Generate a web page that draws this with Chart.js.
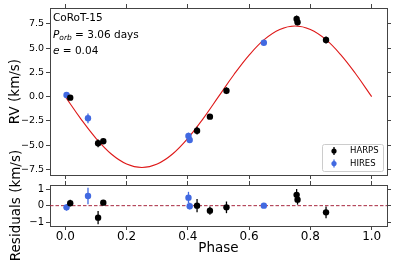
<!DOCTYPE html>
<html>
<head>
<meta charset="utf-8">
<script src="https://cdn.jsdelivr.net/npm/chart.js@4.4.0/dist/chart.umd.min.js"></script>
<style>
body { margin: 0; background: #fff; }
#wrap { position: relative; width: 395px; height: 264px; }
canvas { position: absolute; left: 0; top: 0; }
#note { position: absolute; left: 53px; top: 9px; font: 10.5px 'DejaVu Sans'; line-height: 16.5px; color: #000; }
#note sub { font-size: 7.5px; font-style: italic; vertical-align: -2px; line-height: 0; }
</style>
</head>
<body>
<div id="wrap">
  <canvas id="rvChart" width="395" height="264"></canvas>
  <canvas id="resChart" width="395" height="264"></canvas>
  <div id="note">CoRoT-15<br><i>P</i><sub>orb</sub> = 3.06 days<br><i>e</i> = 0.04</div>
</div>
<script>
"use strict";

const harpsPhase = [0.016, 0.107, 0.124, 0.430, 0.472, 0.526, 0.755, 0.758, 0.851];
const harpsRV    = [-0.10, -4.81, -4.60, -3.51, -2.06, 0.62, 8.02, 7.68, 5.85];
const harpsRes   = [0.15, -0.72, 0.18, 0.00, -0.30, -0.10, 0.65, 0.36, -0.40];
const harpsErr   = [0.20, 0.40, 0.15, 0.40, 0.25, 0.35, 0.35, 0.30, 0.35];

// HIRES measurements
const hiresPhase = [0.004, 0.074, 0.402, 0.406, 0.648];
const hiresRV    = [0.18, -2.23, -4.06, -4.47, 5.57];
const hiresRes   = [-0.10, 0.58, 0.48, -0.03, 0.00];
const hiresErr   = [0.20, 0.50, 0.35, 0.20, 0.05];

// orbit model curve, read every 0.05 in phase
const modelPhase = [0, 0.05, 0.10, 0.15, 0.20, 0.25, 0.30, 0.35, 0.40, 0.45, 0.50,
                    0.55, 0.60, 0.65, 0.70, 0.75, 0.80, 0.85, 0.90, 0.95, 1.00];
const modelRV    = [0, -2.26, -4.29, -5.91, -6.94, -7.30, -6.94, -5.91, -4.29, -2.26, 0,
                    2.26, 4.29, 5.91, 6.94, 7.30, 6.94, 5.91, 4.29, 2.26, 0];

// tick values
const phaseTicks = [0, 0.2, 0.4, 0.6, 0.8, 1.0];
const rvTicks = [-7.5, -5.0, -2.5, 0, 2.5, 5.0, 7.5];
const resTicks = [-1, 0, 1];

const frameColor = '#444';
const harpsColor = '#000000';
const hiresColor = '#4169e1';

Chart.defaults.font.family = "'DejaVu Sans', sans-serif";
Chart.defaults.color = '#000';

function points(xs, ys) {
    return xs.map(function (x, i) { return { x: x, y: ys[i] }; });
}

function fixedTicks(values) {
    return function (scale) {
        scale.ticks = values.map(function (v) { return { value: v }; });
    };
}

function minusSign(text) {
    return text.replace('-', '\u2212');
}

// draws vertical error bars under each dataset's markers
const errorBars = {
    id: 'errorBars',
    beforeDatasetDraw(chart, args) {
        const ds = chart.data.datasets[args.index];
        if (!ds.errors) return;
        const yScale = chart.scales.y;
        const ctx = chart.ctx;
        ctx.save();
        ctx.strokeStyle = ds.backgroundColor;
        ctx.lineWidth = 1.3;
        args.meta.data.forEach(function (pt, i) {
            const v = ds.data[i].y;
            const e = ds.errors[i];
            ctx.beginPath();
            ctx.moveTo(pt.x, yScale.getPixelForValue(v - e));
            ctx.lineTo(pt.x, yScale.getPixelForValue(v + e));
            ctx.stroke();
        });
        ctx.restore();
    }
};

// legend box in the lower right of the RV panel
const legendBox = {
    id: 'legendBox',
    afterDraw(chart) {
        const ctx = chart.ctx;
        const area = chart.chartArea;
        const x0 = area.right - 65, y0 = area.bottom - 31, w = 61, h = 27;
        ctx.save();
        ctx.fillStyle = 'rgba(255,255,255,0.85)';
        ctx.strokeStyle = '#cccccc';
        ctx.lineWidth = 1;
        ctx.beginPath();
        ctx.roundRect(x0 + 0.5, y0 + 0.5, w, h, 2);
        ctx.fill();
        ctx.stroke();
        const items = [['HARPS', harpsColor], ['HIRES', hiresColor]];
        items.forEach(function (item, i) {
            const cy = y0 + 7 + i * 12.5;
            const cx = x0 + 12;
            ctx.strokeStyle = item[1];
            ctx.fillStyle = item[1];
            ctx.lineWidth = 1.3;
            ctx.beginPath();
            ctx.moveTo(cx, cy - 4);
            ctx.lineTo(cx, cy + 4);
            ctx.stroke();
            ctx.beginPath();
            ctx.arc(cx, cy, 2.6, 0, Math.PI * 2);
            ctx.fill();
            ctx.fillStyle = '#000';
            ctx.font = "8.5px 'DejaVu Sans'";
            ctx.textBaseline = 'middle';
            ctx.fillText(item[0], x0 + 28, cy);
        });
        ctx.restore();
    }
};

function frameAxis(position, size, min, max, ticks) {
    return {
        type: 'linear',
        position: position,
        min: min,
        max: max,
        afterBuildTicks: fixedTicks(ticks),
        ticks: { display: false },
        grid: { drawOnChartArea: false, color: frameColor, tickLength: 4 },
        border: { color: frameColor },
        afterFit: function (scale) {
            if (scale.isHorizontal()) scale.height = size; else scale.width = size;
        }
    };
}

// RV panel
const rvChart = new Chart(document.getElementById('rvChart'), {
    type: 'scatter',
    data: {
        datasets: [
            {
                label: 'HARPS',
                data: points(harpsPhase, harpsRV),
                errors: harpsErr,
                backgroundColor: harpsColor,
                borderColor: harpsColor,
                pointRadius: 3.2,
                borderWidth: 0,
                order: 0
            },
            {
                label: 'HIRES',
                data: points(hiresPhase, hiresRV),
                errors: hiresErr,
                backgroundColor: hiresColor,
                borderColor: hiresColor,
                pointRadius: 3.2,
                borderWidth: 0,
                order: 1
            },
            {
                label: 'model',
                data: points(modelPhase, modelRV),
                showLine: true,
                borderColor: 'rgb(222,24,24)',
                borderWidth: 1.1,
                pointRadius: 0,
                tension: 0.4,
                order: 2
            }
        ]
    },
    options: {
        responsive: false,
        animation: false,
        devicePixelRatio: 1,
        layout: { padding: { left: 0, right: 0, top: 0, bottom: 84 } },
        plugins: { legend: { display: false }, tooltip: { enabled: false } },
        scales: {
            x: frameAxis('bottom', 5, -0.05, 1.05, phaseTicks),
            x2: frameAxis('top', 8, -0.05, 1.05, phaseTicks),
            y: {
                type: 'linear',
                position: 'left',
                min: -8.08,
                max: 9.15,
                afterBuildTicks: fixedTicks(rvTicks),
                ticks: {
                    font: { size: 9.5 },
                    padding: 2,
                    callback: function (v) { return minusSign(v.toFixed(1)); }
                },
                grid: { drawOnChartArea: false, color: frameColor, tickLength: 4 },
                border: { color: frameColor },
                title: { display: true, text: 'RV (km/s)', font: { size: 13.5 }, padding: { top: 7.5 } },
                afterFit: function (scale) { scale.width = 50; }
            },
            y2: frameAxis('right', 8, -8.08, 9.15, rvTicks)
        }
    },
    plugins: [errorBars, legendBox]
});

// residuals panel
const resChart = new Chart(document.getElementById('resChart'), {
    type: 'scatter',
    data: {
        datasets: [
            {
                label: 'HARPS',
                data: points(harpsPhase, harpsRes),
                errors: harpsErr,
                backgroundColor: harpsColor,
                borderColor: harpsColor,
                pointRadius: 3.2,
                borderWidth: 0,
                order: 0
            },
            {
                label: 'HIRES',
                data: points(hiresPhase, hiresRes),
                errors: hiresErr,
                backgroundColor: hiresColor,
                borderColor: hiresColor,
                pointRadius: 3.2,
                borderWidth: 0,
                order: 1
            },
            {
                label: 'zero',
                data: [{ x: -0.05, y: 0 }, { x: 1.05, y: 0 }],
                showLine: true,
                borderColor: '#a8283f',
                borderWidth: 1,
                borderDash: [3.5, 2],
                pointRadius: 0,
                order: 2
            }
        ]
    },
    options: {
        responsive: false,
        animation: false,
        devicePixelRatio: 1,
        layout: { padding: { left: 0, right: 0, top: 180, bottom: 0 } },
        plugins: { legend: { display: false }, tooltip: { enabled: false } },
        scales: {
            x: {
                type: 'linear',
                position: 'bottom',
                min: -0.05,
                max: 1.05,
                afterBuildTicks: fixedTicks(phaseTicks),
                ticks: {
                    font: { size: 12 },
                    padding: 0,
                    maxRotation: 0,
                    callback: function (v) { return v.toFixed(1); }
                },
                grid: { drawOnChartArea: false, color: frameColor, tickLength: 4 },
                border: { color: frameColor },
                title: { display: true, text: 'Phase', font: { size: 13.5 }, padding: { bottom: 7 } },
                afterFit: function (scale) { scale.height = 38; }
            },
            x2: frameAxis('top', 5, -0.05, 1.05, phaseTicks),
            y: {
                type: 'linear',
                position: 'left',
                min: -1.22,
                max: 1.24,
                afterBuildTicks: fixedTicks(resTicks),
                ticks: {
                    font: { size: 10 },
                    padding: 2,
                    callback: function (v) { return minusSign(String(v)); }
                },
                grid: { drawOnChartArea: false, color: frameColor, tickLength: 4 },
                border: { color: frameColor },
                title: { display: true, text: 'Residuals (km/s)', font: { size: 13.5 }, padding: { top: 8.5 } },
                afterFit: function (scale) { scale.width = 50; }
            },
            y2: frameAxis('right', 8, -1.22, 1.24, resTicks)
        }
    },
    plugins: [errorBars]
});
</script>
</body>
</html>
